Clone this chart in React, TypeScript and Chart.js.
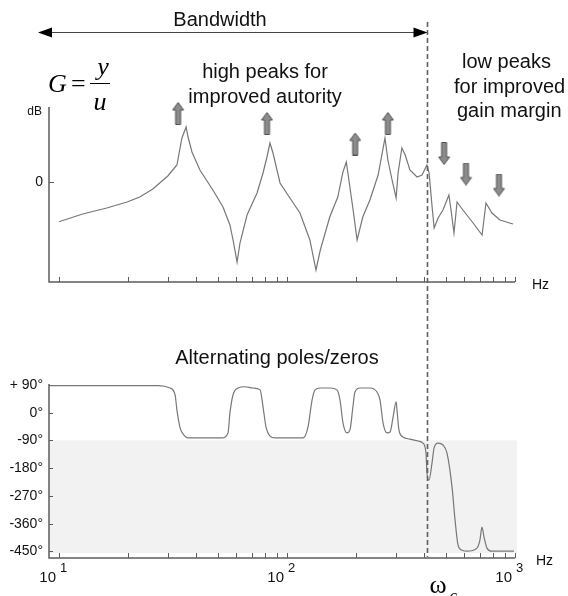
import React, { useEffect, useRef } from "react";
import { Chart, registerables } from "chart.js";
Chart.register(...registerables);

// ---- data ----
const magFreq = [10, 12.7, 16.2, 19.9, 22.6, 25.8, 30, 32.9, 34.6, 36.1, 36.8, 38.3, 41.5, 47.3, 52.4, 56.2, 58, 60.4, 62.2, 66.8, 73.9, 78.5, 81.7, 84.2, 86.8, 93.2, 103, 114, 126, 134, 140, 154, 167, 176, 182, 185, 195, 203, 215, 231, 251, 269, 277, 289, 301, 307, 319, 330, 346, 372, 391, 411, 420, 433, 442, 460, 483, 513, 524, 540, 557, 591, 655, 717, 746, 792, 859, 980];
const magDb = [-15.9, -12.8, -10.4, -8, -6, -2.8, 2.4, 6.8, 17.6, 22, 18, 12, 4.8, -3.2, -10, -17.2, -23.2, -32, -24.4, -13.2, -4.4, 3.6, 10, 15.6, 11.6, -0.4, -6.4, -12.4, -23.2, -35.2, -27.2, -14, -6, 4, 8, 3.6, -11.2, -23.2, -14, -7.2, 2.8, 17.6, 8.8, 0.8, -6.4, 3.6, 13.6, 10.8, 4.8, 2, 2.8, 6.8, 3.6, -10, -18.4, -14.4, -11.2, -5.2, -11.2, -20.4, -8, -11.2, -16.4, -21.2, -8.4, -12.4, -15.2, -16.8];

const phaseFreq = [9.13, 27.2, 30.7, 32.3, 32.9, 34.0, 35.0, 36.8, 51.9, 55.1, 56.2, 58.0, 61.0, 65.4, 70.9, 76.2, 78.5, 80.9, 84.2, 88.5, 117.5, 123.6, 128.8, 132.8, 139.7, 154.5, 165.7, 170.8, 176.1, 183.3, 188.9, 194.6, 198.6, 208.9, 231.1, 248.1, 255.9, 263.9, 274.6, 283.2, 292.0, 301.1, 303.7, 309.7, 322.7, 346, 375.5, 394.8, 407, 411, 419.5, 432.5, 441.5, 459.6, 483, 503, 529.5, 545.9, 562.9, 586.3, 615.8, 680.8, 701.6, 716.5, 731.4, 753.4, 792.1, 990];
const phaseDeg = [88, 88, 80, 58, 9, -50, -69, -82, -82, -66, -1, 58, 80, 84, 80, 74, 19, -47, -76, -82, -82, -47, 41, 74, 80, 80, 74, 41, -34, -66, -56, 19, 67, 80, 80, 67, 41, -34, -66, -63, -14, 35, 9, -56, -79, -86, -92, -99, -131, -196, -219, -164, -115, -99, -105, -131, -242, -349, -431, -447, -450, -440, -414, -372, -404, -440, -450, -450];

const upArrowFreq = [33.3, 81.7, 199, 277];
const upArrowDb = [27.4, 23.4, 15.2, 23.4];
const downArrowFreq = [489, 610, 851];
const downArrowDb = [11.4, 3.2, -1.2];

const crossoverFreq = 411;
const xTickValues = [10, 20, 30, 40, 50, 60, 70, 80, 90, 100, 200, 300, 400, 500, 600, 700, 800, 900, 1000];
const decadeValues = [10, 100, 1000];
const decadeExponents = ["1", "2", "3"];
const magTickValues = [0];
const magTickLabels = ["0"];
const phaseTickValues = [90, 0, -90, -180, -270, -360, -450];
const phaseTickLabels = ["+ 90°", "0°", "-90°", "-180°", "-270°", "-360°", "-450°"];
const shadeFrom = -90;
const shadeTo = -456;

const SANS = "'Liberation Sans', Arial, sans-serif";
const SERIF = "'Liberation Serif', 'Times New Roman', serif";
const AXIS = "#5c5c5c";

function makeArrowImage(): HTMLCanvasElement {
  const c = document.createElement("canvas");
  c.width = 13;
  c.height = 23;
  const g = c.getContext("2d")!;
  g.beginPath();
  g.moveTo(6.5, 0.5);
  g.lineTo(12, 8);
  g.lineTo(9, 8);
  g.lineTo(9, 22.5);
  g.lineTo(4, 22.5);
  g.lineTo(4, 8);
  g.lineTo(1, 8);
  g.closePath();
  g.fillStyle = "#8c8c8c";
  g.fill();
  g.strokeStyle = "#505050";
  g.lineWidth = 1;
  g.stroke();
  return c;
}

function text(ctx: CanvasRenderingContext2D, s: string, x: number, y: number, font: string, align: CanvasTextAlign = "left", base: CanvasTextBaseline = "middle", color = "#111") {
  ctx.font = font;
  ctx.textAlign = align;
  ctx.textBaseline = base;
  ctx.fillStyle = color;
  ctx.fillText(s, x, y);
}

function dashed(ctx: CanvasRenderingContext2D, x: number, y0: number, y1: number) {
  ctx.save();
  ctx.strokeStyle = "#606060";
  ctx.lineWidth = 1.6;
  ctx.setLineDash([5, 3]);
  ctx.beginPath();
  ctx.moveTo(x, y0);
  ctx.lineTo(x, y1);
  ctx.stroke();
  ctx.restore();
}

function drawAxes(chart: any) {
  const ctx = chart.ctx as CanvasRenderingContext2D;
  const a = chart.chartArea;
  const xs = chart.scales.x;
  ctx.save();
  ctx.strokeStyle = AXIS;
  ctx.lineWidth = 1.5;
  ctx.beginPath();
  ctx.moveTo(a.left, a.top);
  ctx.lineTo(a.left, a.bottom);
  ctx.lineTo(a.right, a.bottom);
  ctx.stroke();
  ctx.lineWidth = 1;
  ctx.beginPath();
  for (const v of xTickValues) {
    const x = Math.round(xs.getPixelForValue(v)) + 0.5;
    ctx.moveTo(x, a.bottom);
    ctx.lineTo(x, a.bottom - 5);
  }
  ctx.stroke();
  ctx.restore();
}

const upperPlugin = {
  id: "upperDeco",
  beforeDatasetsDraw(chart: any) {
    drawAxes(chart);
    const ctx = chart.ctx as CanvasRenderingContext2D;
    const a = chart.chartArea;
    const ys = chart.scales.y;
    ctx.save();
    ctx.strokeStyle = AXIS;
    ctx.lineWidth = 1;
    magTickValues.forEach((v, i) => {
      const y = Math.round(ys.getPixelForValue(v)) + 0.5;
      ctx.beginPath();
      ctx.moveTo(a.left, y);
      ctx.lineTo(a.left + 5, y);
      ctx.stroke();
      text(ctx, magTickLabels[i], a.left - 6, y, `14px ${SANS}`, "right");
    });
    text(ctx, "dB", a.left - 7, a.top + 5, `12px ${SANS}`, "right");
    text(ctx, "Hz", a.right + 17, a.bottom + 3, `14px ${SANS}`, "left");
    ctx.restore();
  },
  afterDraw(chart: any) {
    const ctx = chart.ctx as CanvasRenderingContext2D;
    const xs = chart.scales.x;
    const xc = Math.round(xs.getPixelForValue(crossoverFreq)) + 0.5;
    ctx.save();
    dashed(ctx, xc, 22, chart.height);
    // bandwidth arrow
    const yA = 32.5;
    const xl = 38;
    ctx.strokeStyle = "#444";
    ctx.lineWidth = 1;
    ctx.beginPath();
    ctx.moveTo(xl + 10, yA);
    ctx.lineTo(xc - 10, yA);
    ctx.stroke();
    ctx.fillStyle = "#000";
    ctx.beginPath();
    ctx.moveTo(xl, yA);
    ctx.lineTo(xl + 14, yA - 5);
    ctx.lineTo(xl + 14, yA + 5);
    ctx.closePath();
    ctx.fill();
    ctx.beginPath();
    ctx.moveTo(xc, yA);
    ctx.lineTo(xc - 14, yA - 5);
    ctx.lineTo(xc - 14, yA + 5);
    ctx.closePath();
    ctx.fill();
    text(ctx, "Bandwidth", 220, 20, `20px ${SANS}`, "center");
    // G = y/u
    text(ctx, "G", 48, 92, `italic 26px ${SERIF}`, "left", "alphabetic", "#000");
    text(ctx, "=", 71, 92, `26px ${SERIF}`, "left", "alphabetic", "#000");
    text(ctx, "y", 103, 75, `italic 26px ${SERIF}`, "center", "alphabetic", "#000");
    text(ctx, "u", 100, 110, `italic 26px ${SERIF}`, "center", "alphabetic", "#000");
    ctx.strokeStyle = "#000";
    ctx.lineWidth = 1;
    ctx.beginPath();
    ctx.moveTo(90, 83.5);
    ctx.lineTo(110, 83.5);
    ctx.stroke();
    // annotations
    text(ctx, "high peaks for", 265, 72, `20px ${SANS}`, "center");
    text(ctx, "improved autority", 265, 97, `20px ${SANS}`, "center");
    text(ctx, "low peaks", 462, 62, `20px ${SANS}`, "left");
    text(ctx, "for improved", 454, 87, `20px ${SANS}`, "left");
    text(ctx, "gain margin", 457, 111, `20px ${SANS}`, "left");
    // omega_c
    text(ctx, "ω", xc + 2, 316, `26px ${SERIF}`, "left", "alphabetic", "#000");
    text(ctx, "c", xc + 22, 324, `italic 17px ${SERIF}`, "left", "alphabetic", "#000");
    ctx.restore();
  },
};

const lowerPlugin = {
  id: "lowerDeco",
  beforeDatasetsDraw(chart: any) {
    const ctx = chart.ctx as CanvasRenderingContext2D;
    const a = chart.chartArea;
    const xs = chart.scales.x;
    const ys = chart.scales.y;
    ctx.save();
    ctx.fillStyle = "#f2f2f2";
    const y0 = ys.getPixelForValue(shadeFrom);
    const y1 = ys.getPixelForValue(shadeTo);
    ctx.fillRect(a.left, y0, a.right + 2 - a.left, y1 - y0);
    ctx.restore();
    drawAxes(chart);
    ctx.save();
    ctx.strokeStyle = AXIS;
    ctx.lineWidth = 1;
    phaseTickValues.forEach((v, i) => {
      const y = Math.round(ys.getPixelForValue(v)) + 0.5;
      ctx.beginPath();
      ctx.moveTo(a.left, y);
      ctx.lineTo(a.left + 4, y);
      ctx.stroke();
      text(ctx, phaseTickLabels[i], a.left - 6, y, `14px ${SANS}`, "right");
    });
    decadeValues.forEach((v, i) => {
      const x = xs.getPixelForValue(v);
      text(ctx, "10", x - 3, a.bottom + 20, `15px ${SANS}`, "right");
      text(ctx, decadeExponents[i], x + 1, a.bottom + 10, `13px ${SANS}`, "left");
    });
    text(ctx, "Hz", a.right + 21, a.bottom + 3, `14px ${SANS}`, "left");
    text(ctx, "Alternating poles/zeros", 277, 58, `20px ${SANS}`, "center");
    ctx.restore();
  },
  afterDraw(chart: any) {
    const ctx = chart.ctx as CanvasRenderingContext2D;
    const a = chart.chartArea;
    const xs = chart.scales.x;
    const xc = Math.round(xs.getPixelForValue(crossoverFreq)) + 0.5;
    dashed(ctx, xc, 0, a.bottom - 1);
    text(ctx, "ω", xc + 2, 293, `26px ${SERIF}`, "left", "alphabetic", "#000");
    text(ctx, "c", xc + 22, 301, `italic 17px ${SERIF}`, "left", "alphabetic", "#000");
  },
};

const xScale = { type: "logarithmic" as const, min: 9.04, max: 1000, display: false };

export default function App() {
  const upRef = useRef<HTMLCanvasElement>(null);
  const lowRef = useRef<HTMLCanvasElement>(null);

  useEffect(() => {
    const arrow = makeArrowImage();
    const upper = new Chart(upRef.current!, {
      type: "line",
      data: {
        datasets: [
          {
            data: magFreq.map((f, i) => ({ x: f, y: magDb[i] })),
            borderColor: "#777777",
            borderWidth: 1.2,
            pointRadius: 0,
            tension: 0,
          },
          {
            data: upArrowFreq.map((f, i) => ({ x: f, y: upArrowDb[i] })),
            showLine: false,
            pointStyle: arrow,
            rotation: 0,
            pointRadius: 10,
            clip: false,
          } as any,
          {
            data: downArrowFreq.map((f, i) => ({ x: f, y: downArrowDb[i] })),
            showLine: false,
            pointStyle: arrow,
            rotation: 180,
            pointRadius: 10,
            clip: false,
          } as any,
        ],
      },
      options: {
        responsive: false,
        animation: false,
        events: [],
        layout: { padding: { left: 49, right: 53, top: 107, bottom: 18 } },
        plugins: { legend: { display: false }, tooltip: { enabled: false } },
        scales: {
          x: xScale,
          y: { type: "linear", min: -40, max: 30, display: false },
        },
      },
      plugins: [upperPlugin],
    });
    const lower = new Chart(lowRef.current!, {
      type: "line",
      data: {
        datasets: [
          {
            data: phaseFreq.map((f, i) => ({ x: f, y: phaseDeg[i] })),
            borderColor: "#777777",
            borderWidth: 1.2,
            pointRadius: 0,
            cubicInterpolationMode: "monotone",
          },
        ],
      },
      options: {
        responsive: false,
        animation: false,
        events: [],
        layout: { padding: { left: 49, right: 53, top: 84, bottom: 38 } },
        plugins: { legend: { display: false }, tooltip: { enabled: false } },
        scales: {
          x: xScale,
          y: { type: "linear", min: -472, max: 93, display: false },
        },
      },
      plugins: [lowerPlugin],
    });
    return () => {
      upper.destroy();
      lower.destroy();
    };
  }, []);

  return (
    <div style={{ position: "absolute", left: 0, top: 0, width: 568, height: 596, background: "#fff", overflow: "hidden" }}>
      <canvas ref={upRef} width={568} height={300} style={{ position: "absolute", left: 0, top: 0, display: "block" }} />
      <canvas ref={lowRef} width={568} height={296} style={{ position: "absolute", left: 0, top: 300, display: "block" }} />
    </div>
  );
}
